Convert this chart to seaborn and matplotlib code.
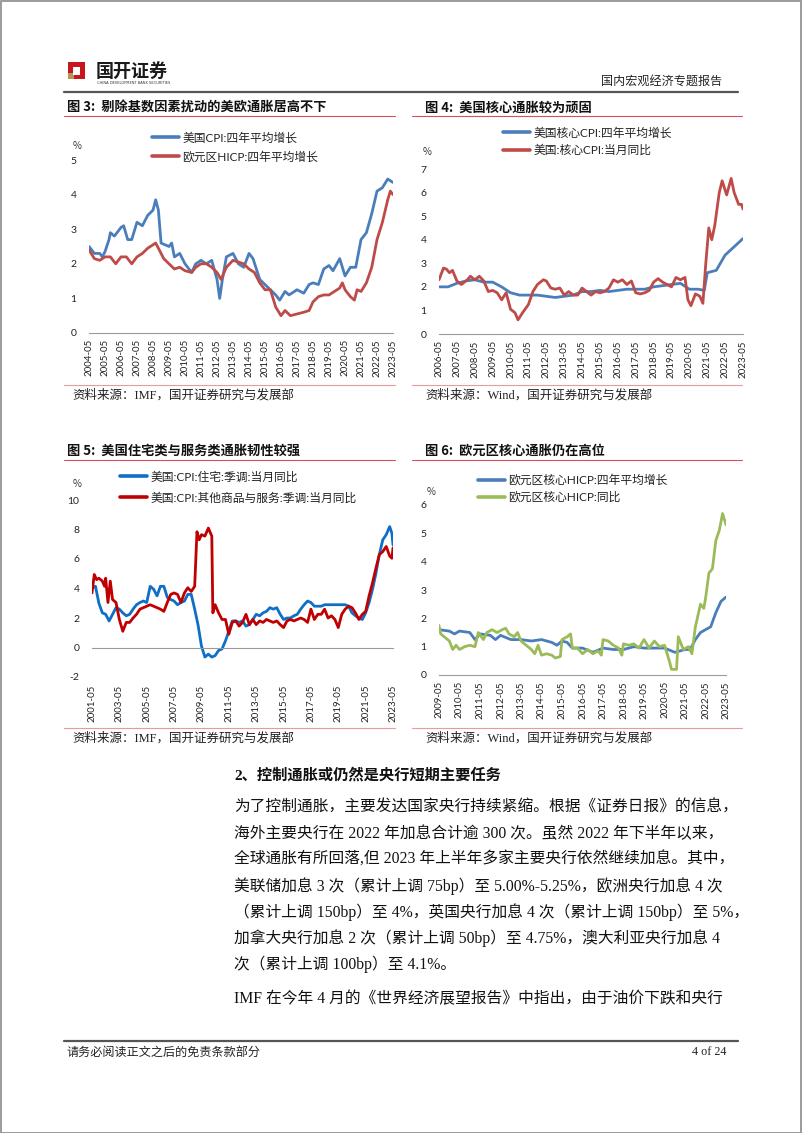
import matplotlib
matplotlib.use("Agg")
import matplotlib.pyplot as plt
import matplotlib.dates as mdates
import matplotlib.patches as mpatches
from matplotlib.lines import Line2D
import seaborn as sns
import pandas as pd

sns.set_theme(style="white")
plt.rcParams["font.family"] = ["Noto Sans CJK SC", "DejaVu Sans"]
plt.rcParams["axes.unicode_minus"] = False

# ---------------- DATA ----------------
# Figure 3
us_cpi_4y = [("2004-05", 2.5), ("2004-09", 2.3), ("2005-01", 2.3), ("2005-03", 2.2), ("2005-05", 2.35),
             ("2005-08", 2.7), ("2005-09", 2.9), ("2005-12", 2.8), ("2006-05", 3.05), ("2006-07", 3.1),
             ("2006-10", 2.7), ("2007-01", 2.7), ("2007-05", 3.2), ("2007-09", 3.1), ("2008-01", 3.4),
             ("2008-05", 3.55), ("2008-07", 3.85), ("2008-09", 3.55), ("2008-11", 2.6), ("2009-05", 2.5),
             ("2009-07", 2.6), ("2009-09", 2.2), ("2010-01", 2.3), ("2010-05", 2.0), ("2010-10", 1.75),
             ("2011-01", 2.0), ("2011-05", 2.1), ("2011-09", 2.0), ("2012-01", 2.1), ("2012-05", 1.55),
             ("2012-07", 1.0), ("2012-09", 1.55), ("2012-12", 2.2), ("2013-05", 2.3), ("2013-09", 2.0),
             ("2014-01", 1.9), ("2014-05", 2.3), ("2014-08", 2.15), ("2015-01", 1.55), ("2015-05", 1.4),
             ("2015-09", 1.25), ("2016-01", 1.1), ("2016-04", 0.95), ("2016-08", 1.2), ("2016-11", 1.1),
             ("2017-05", 1.25), ("2017-10", 1.15), ("2018-02", 1.4), ("2018-05", 1.45), ("2018-09", 1.4),
             ("2019-01", 1.85), ("2019-05", 1.95), ("2019-08", 1.8), ("2020-01", 2.15), ("2020-05", 1.65),
             ("2020-09", 1.9), ("2021-01", 1.9), ("2021-05", 2.7), ("2021-09", 2.9), ("2022-01", 3.45),
             ("2022-05", 4.1), ("2022-09", 4.2), ("2023-01", 4.45), ("2023-05", 4.35)]
ez_hicp_4y = [("2004-05", 2.4), ("2004-09", 2.15), ("2005-01", 2.1), ("2005-05", 2.2), ("2005-09", 2.2),
              ("2006-01", 2.0), ("2006-05", 2.2), ("2006-09", 2.2), ("2007-01", 2.0), ("2007-05", 2.2),
              ("2007-09", 2.3), ("2008-01", 2.45), ("2008-05", 2.55), ("2008-07", 2.6), ("2008-09", 2.45),
              ("2009-01", 2.15), ("2009-05", 2.0), ("2009-09", 1.85), ("2010-01", 1.9), ("2010-05", 1.8),
              ("2010-10", 1.75), ("2011-01", 1.9), ("2011-05", 2.0), ("2011-09", 2.0), ("2012-01", 1.9),
              ("2012-05", 1.75), ("2012-08", 1.55), ("2012-12", 1.9), ("2013-05", 2.1), ("2013-09", 2.05),
              ("2014-01", 2.0), ("2014-05", 1.85), ("2014-09", 1.75), ("2015-01", 1.45), ("2015-05", 1.25),
              ("2015-09", 1.25), ("2016-01", 0.75), ("2016-05", 0.5), ("2016-08", 0.65), ("2016-12", 0.5),
              ("2017-05", 0.55), ("2017-10", 0.6), ("2018-02", 0.65), ("2018-05", 0.9), ("2018-09", 1.05),
              ("2019-01", 1.1), ("2019-05", 1.1), ("2019-09", 1.2), ("2020-01", 1.3), ("2020-03", 1.45),
              ("2020-05", 1.25), ("2020-09", 1.05), ("2020-12", 0.95), ("2021-02", 1.25), ("2021-05", 1.2),
              ("2021-09", 1.45), ("2022-01", 1.9), ("2022-05", 2.7), ("2022-09", 3.2), ("2023-01", 3.85),
              ("2023-03", 4.1), ("2023-05", 4.0)]

# Figure 4
us_core_4y = [("2006-05", 2.0), ("2006-11", 2.0), ("2007-05", 2.15), ("2007-11", 2.25), ("2008-05", 2.3),
              ("2008-11", 2.2), ("2009-05", 2.2), ("2009-11", 2.0), ("2010-05", 1.75), ("2010-11", 1.65),
              ("2011-05", 1.65), ("2011-11", 1.65), ("2012-05", 1.6), ("2012-11", 1.55), ("2013-05", 1.6),
              ("2013-11", 1.65), ("2014-05", 1.8), ("2014-11", 1.8), ("2015-05", 1.85), ("2015-11", 1.8),
              ("2016-05", 1.85), ("2016-11", 1.9), ("2017-05", 1.9), ("2017-11", 1.9), ("2018-05", 2.0),
              ("2018-11", 2.05), ("2019-05", 2.1), ("2019-11", 2.15), ("2020-05", 1.9), ("2020-11", 1.9),
              ("2021-03", 1.85), ("2021-05", 2.6), ("2021-11", 2.7), ("2022-05", 3.35), ("2022-11", 3.7),
              ("2023-05", 4.05)]
us_core_yoy = [("2006-05", 2.3), ("2006-08", 2.8), ("2006-10", 2.75), ("2006-12", 2.6), ("2007-02", 2.7),
               ("2007-05", 2.25), ("2007-08", 2.1), ("2007-12", 2.3), ("2008-02", 2.45), ("2008-05", 2.3),
               ("2008-08", 2.45), ("2008-11", 2.25), ("2009-02", 1.8), ("2009-05", 1.85), ("2009-08", 1.75),
               ("2009-11", 1.45), ("2010-02", 1.75), ("2010-05", 1.05), ("2010-08", 0.9), ("2010-10", 0.6),
               ("2011-01", 0.9), ("2011-05", 1.25), ("2011-08", 1.8), ("2011-11", 2.1), ("2012-03", 2.3),
               ("2012-05", 2.25), ("2012-08", 1.95), ("2012-11", 1.9), ("2013-02", 1.95), ("2013-05", 1.65),
               ("2013-08", 1.8), ("2013-11", 1.65), ("2014-02", 1.65), ("2014-05", 1.95), ("2014-08", 1.8),
               ("2014-11", 1.65), ("2015-02", 1.8), ("2015-05", 1.75), ("2015-08", 1.8), ("2015-11", 1.95),
               ("2016-02", 2.3), ("2016-05", 2.2), ("2016-08", 2.3), ("2016-11", 2.1), ("2017-02", 2.25),
               ("2017-05", 1.75), ("2017-08", 1.7), ("2017-11", 1.75), ("2018-02", 1.85), ("2018-05", 2.2),
               ("2018-08", 2.35), ("2018-11", 2.2), ("2019-02", 2.1), ("2019-05", 2.0), ("2019-08", 2.4),
               ("2019-11", 2.3), ("2020-02", 2.4), ("2020-04", 1.45), ("2020-06", 1.2), ("2020-09", 1.7),
               ("2020-12", 1.6), ("2021-02", 1.3), ("2021-04", 3.0), ("2021-06", 4.5), ("2021-08", 4.0),
               ("2021-10", 4.6), ("2022-01", 6.0), ("2022-03", 6.5), ("2022-06", 5.9), ("2022-09", 6.6),
               ("2022-11", 6.0), ("2023-02", 5.5), ("2023-04", 5.5), ("2023-05", 5.3)]

# Figure 5
us_housing_yoy = [("2001-05", 4.05), ("2001-08", 4.15), ("2001-11", 3.0), ("2002-02", 2.35), ("2002-05", 2.25),
                  ("2002-08", 1.8), ("2002-11", 2.25), ("2003-02", 2.7), ("2003-05", 2.6), ("2003-08", 2.35),
                  ("2003-11", 2.15), ("2004-02", 2.25), ("2004-05", 2.6), ("2004-08", 2.9), ("2004-11", 3.05),
                  ("2005-02", 3.15), ("2005-05", 3.05), ("2005-08", 4.15), ("2005-11", 3.95), ("2006-02", 3.5),
                  ("2006-05", 4.15), ("2006-08", 4.15), ("2006-11", 3.4), ("2007-02", 3.25), ("2007-05", 3.15),
                  ("2007-08", 2.9), ("2007-11", 3.05), ("2008-02", 3.15), ("2008-05", 3.6), ("2008-08", 3.6),
                  ("2008-11", 2.6), ("2009-02", 1.5), ("2009-05", 0.1), ("2009-08", -0.65), ("2009-11", -0.45),
                  ("2010-02", -0.65), ("2010-05", -0.55), ("2010-08", -0.2), ("2010-11", -0.1), ("2011-02", 0.45),
                  ("2011-05", 1.1), ("2011-08", 1.8), ("2011-11", 1.8), ("2012-02", 1.7), ("2012-05", 1.8),
                  ("2012-08", 1.45), ("2012-11", 1.55), ("2013-02", 1.9), ("2013-05", 2.25), ("2013-08", 2.15),
                  ("2013-11", 2.35), ("2014-02", 2.45), ("2014-05", 2.7), ("2014-08", 2.6), ("2014-11", 2.7),
                  ("2015-02", 2.25), ("2015-05", 1.9), ("2015-08", 2.0), ("2015-11", 2.0), ("2016-02", 2.15),
                  ("2016-05", 2.25), ("2016-08", 2.6), ("2016-11", 2.9), ("2017-02", 3.15), ("2017-05", 3.05),
                  ("2017-08", 2.8), ("2017-11", 2.8), ("2018-02", 2.8), ("2018-05", 2.9), ("2018-08", 2.9),
                  ("2018-11", 2.9), ("2019-02", 2.9), ("2019-05", 2.9), ("2019-08", 2.9), ("2019-11", 2.9),
                  ("2020-02", 2.8), ("2020-05", 2.35), ("2020-08", 2.15), ("2020-11", 2.0), ("2021-02", 1.9),
                  ("2021-05", 2.35), ("2021-08", 3.05), ("2021-11", 3.95), ("2022-02", 5.05), ("2022-05", 6.3),
                  ("2022-08", 7.3), ("2022-11", 7.65), ("2023-02", 8.2), ("2023-04", 7.75), ("2023-05", 6.95)]
us_other_yoy = [("2001-05", 3.7), ("2001-07", 4.95), ("2001-09", 4.6), ("2001-11", 4.7), ("2002-02", 4.5),
                ("2002-04", 4.15), ("2002-05", 4.7), ("2002-07", 3.05), ("2002-09", 4.5), ("2002-11", 3.25),
                ("2003-02", 3.05), ("2003-05", 1.9), ("2003-08", 1.1), ("2003-11", 1.7), ("2004-02", 1.7),
                ("2004-05", 2.0), ("2004-08", 2.25), ("2004-11", 2.6), ("2005-02", 2.7), ("2005-05", 2.8),
                ("2005-08", 2.9), ("2005-11", 2.8), ("2006-02", 2.7), ("2006-05", 2.6), ("2006-08", 2.45),
                ("2006-11", 3.05), ("2007-02", 3.6), ("2007-05", 3.7), ("2007-08", 3.6), ("2007-11", 3.05),
                ("2008-02", 3.7), ("2008-05", 4.05), ("2008-08", 3.8), ("2008-11", 4.15), ("2009-01", 7.85),
                ("2009-03", 7.3), ("2009-05", 7.65), ("2009-08", 7.55), ("2009-11", 8.1), ("2010-02", 7.55),
                ("2010-03", 2.35), ("2010-05", 2.9), ("2010-08", 2.35), ("2010-11", 1.9), ("2011-02", 1.9),
                ("2011-05", 0.9), ("2011-08", 1.7), ("2011-11", 1.8), ("2012-02", 1.45), ("2012-05", 1.7),
                ("2012-08", 2.25), ("2012-11", 1.55), ("2013-02", 1.9), ("2013-05", 1.55), ("2013-08", 1.8),
                ("2013-11", 1.7), ("2014-02", 1.9), ("2014-05", 1.8), ("2014-08", 1.7), ("2014-11", 1.8),
                ("2015-02", 1.55), ("2015-05", 1.35), ("2015-08", 1.8), ("2015-11", 1.9), ("2016-02", 1.8),
                ("2016-05", 1.9), ("2016-08", 2.0), ("2016-11", 1.9), ("2017-02", 1.7), ("2017-05", 2.6),
                ("2017-08", 1.9), ("2017-11", 2.25), ("2018-02", 2.25), ("2018-05", 2.6), ("2018-08", 2.0),
                ("2018-11", 2.15), ("2019-02", 1.9), ("2019-05", 1.35), ("2019-08", 2.25), ("2019-11", 2.6),
                ("2020-02", 2.8), ("2020-05", 2.7), ("2020-08", 2.35), ("2020-11", 1.9), ("2021-02", 2.25),
                ("2021-05", 2.45), ("2021-08", 3.5), ("2021-11", 4.4), ("2022-02", 5.4), ("2022-05", 6.3),
                ("2022-08", 6.5), ("2022-11", 6.85), ("2023-02", 6.2), ("2023-04", 6.05), ("2023-05", 6.75)]

# Figure 6
ez_core_4y = [("2009-05", 1.6), ("2009-11", 1.55), ("2010-02", 1.45), ("2010-05", 1.55), ("2010-11", 1.5),
              ("2011-02", 1.25), ("2011-05", 1.45), ("2011-11", 1.4), ("2012-02", 1.25), ("2012-05", 1.4),
              ("2012-11", 1.25), ("2013-05", 1.25), ("2013-11", 1.2), ("2014-05", 1.25), ("2014-11", 1.15),
              ("2015-02", 1.05), ("2015-05", 1.2), ("2015-08", 1.15), ("2015-11", 0.95), ("2016-05", 0.95),
              ("2016-11", 0.8), ("2017-05", 0.95), ("2017-11", 0.9), ("2018-05", 0.9), ("2018-11", 1.0),
              ("2019-05", 0.95), ("2019-11", 0.95), ("2020-05", 0.95), ("2020-11", 0.8), ("2021-05", 0.9),
              ("2021-08", 0.9), ("2021-11", 1.25), ("2022-02", 1.5), ("2022-05", 1.6), ("2022-08", 1.7),
              ("2022-11", 2.2), ("2023-02", 2.6), ("2023-05", 2.75)]
ez_core_yoy = [("2009-05", 1.75), ("2009-06", 1.45), ("2009-09", 1.3), ("2009-11", 1.2), ("2010-01", 0.9),
               ("2010-03", 1.05), ("2010-05", 0.9), ("2010-08", 1.0), ("2010-11", 1.05), ("2011-02", 1.0),
               ("2011-04", 1.5), ("2011-07", 1.25), ("2011-09", 1.5), ("2011-12", 1.6), ("2012-03", 1.5),
               ("2012-06", 1.6), ("2012-08", 1.65), ("2012-10", 1.45), ("2013-01", 1.35), ("2013-03", 1.5),
               ("2013-05", 1.2), ("2013-08", 1.05), ("2013-11", 0.9), ("2014-01", 0.75), ("2014-03", 1.05),
               ("2014-05", 0.7), ("2014-08", 0.75), ("2014-11", 0.7), ("2015-01", 0.6), ("2015-04", 0.65),
               ("2015-05", 1.25), ("2015-08", 1.35), ("2015-10", 1.45), ("2015-11", 0.95), ("2016-02", 0.95),
               ("2016-05", 0.75), ("2016-08", 0.9), ("2016-11", 0.75), ("2017-02", 0.85), ("2017-04", 0.7),
               ("2017-05", 1.25), ("2017-08", 1.2), ("2017-11", 1.05), ("2018-02", 0.95), ("2018-04", 0.7),
               ("2018-05", 1.1), ("2018-08", 1.05), ("2018-11", 1.1), ("2019-02", 0.95), ("2019-05", 1.25),
               ("2019-08", 0.95), ("2019-11", 1.2), ("2020-02", 1.0), ("2020-05", 1.05), ("2020-08", 0.45),
               ("2020-09", 0.2), ("2020-12", 0.2), ("2021-01", 1.35), ("2021-04", 0.9), ("2021-07", 1.0),
               ("2021-09", 0.75), ("2021-11", 1.7), ("2022-02", 2.5), ("2022-04", 2.35), ("2022-05", 2.7),
               ("2022-07", 3.6), ("2022-09", 3.75), ("2022-11", 4.75), ("2023-01", 5.1), ("2023-03", 5.7),
               ("2023-05", 5.3)]

# Labels / ticks
fig3_title = "图 3:  剔除基数因素扰动的美欧通胀居高不下"
fig4_title = "图 4:  美国核心通胀较为顽固"
fig5_title = "图 5:  美国住宅类与服务类通胀韧性较强"
fig6_title = "图 6:  欧元区核心通胀仍在高位"
fig3_labels = ["美国CPI:四年平均增长", "欧元区HICP:四年平均增长"]
fig4_labels = ["美国核心CPI:四年平均增长", "美国:核心CPI:当月同比"]
fig5_labels = ["美国:CPI:住宅:季调:当月同比", "美国:CPI:其他商品与服务:季调:当月同比"]
fig6_labels = ["欧元区核心HICP:四年平均增长", "欧元区核心HICP:同比"]
fig3_yticks = [0, 1, 2, 3, 4, 5]
fig4_yticks = [0, 1, 2, 3, 4, 5, 6, 7]
fig5_yticks = [-2, 0, 2, 4, 6, 8, 10]
fig6_yticks = [0, 1, 2, 3, 4, 5, 6]
src_imf = "资料来源：IMF，国开证券研究与发展部"
src_wind = "资料来源：Wind，国开证券研究与发展部"

heading = "2、控制通胀或仍然是央行短期主要任务"
body_lines = [
    "为了控制通胀，主要发达国家央行持续紧缩。根据《证券日报》的信息，",
    "海外主要央行在 2022 年加息合计逾 300 次。虽然 2022 年下半年以来，",
    "全球通胀有所回落,但 2023 年上半年多家主要央行依然继续加息。其中，",
    "美联储加息 3 次（累计上调 75bp）至 5.00%-5.25%，欧洲央行加息 4 次",
    "（累计上调 150bp）至 4%，英国央行加息 4 次（累计上调 150bp）至 5%，",
    "加拿大央行加息 2 次（累计上调 50bp）至 4.75%，澳大利亚央行加息 4",
    "次（累计上调 100bp）至 4.1%。",
]
body_last = "IMF 在今年 4 月的《世界经济展望报告》中指出，由于油价下跌和央行"

# ---------------- LAYOUT ----------------
W, H = 802, 1133
fig = plt.figure(figsize=(W / 100, H / 100), dpi=100)
fig.patch.set_facecolor("white")

SERIF_MIX = ["Liberation Serif", "Noto Sans CJK SC"]
SANS_MIX = ["Lato", "Noto Sans CJK SC"]


def fx(x):
    return x / W


def fy(y):
    return 1 - y / H


def hline(x0, x1, y, color, lw):
    fig.add_artist(Line2D([fx(x0), fx(x1)], [fy(y), fy(y)], transform=fig.transFigure,
                          color=color, lw=lw))


def make_axes(left, right, top, bottom):
    return fig.add_axes([fx(left), fy(bottom), fx(right - left), (bottom - top) / H])


AXIS_GREY = "#9a9a9a"
TITLE_RED = "#d3525c"
SRC_RED = "#e79aa0"


def draw_chart(ax, series, labels, colors, ylim, yticks, t0, t1, step, legend_xy, zero_axis=False,
               xpad=1.5, spacing=0.6):
    frames = []
    for data, lab in zip(series, labels):
        d = pd.DataFrame(data, columns=["date", "value"])
        d["date"] = pd.to_datetime(d["date"])
        d["series"] = lab
        frames.append(d)
    df = pd.concat(frames, ignore_index=True)
    sns.lineplot(data=df, x="date", y="value", hue="series", hue_order=labels,
                 palette=dict(zip(labels, colors)), lw=2.0, ax=ax, legend=False)
    ticks = pd.date_range(t0, t1, freq=f"{12 * step}MS")
    ax.set_xticks(ticks)
    ax.xaxis.set_major_formatter(mdates.DateFormatter("%Y-%m"))
    ax.set_xlim(pd.Timestamp(t0), pd.Timestamp(t1))
    ax.set_ylim(*ylim)
    ax.set_yticks(yticks)
    ax.set_yticklabels([str(v) for v in yticks])
    ax.set_xlabel("")
    ax.set_ylabel("")
    ax.set_facecolor("none")
    for s in ["top", "right", "left"]:
        ax.spines[s].set_visible(False)
    ax.spines["bottom"].set_color(AXIS_GREY)
    ax.spines["bottom"].set_linewidth(0.8)
    if zero_axis:
        ax.spines["bottom"].set_position(("data", 0))
    ax.tick_params(axis="x", direction="out", length=3, width=0.7, color=AXIS_GREY,
                   labelsize=7, labelrotation=90, pad=xpad, labelcolor="#222222")
    ax.tick_params(axis="y", length=0, labelsize=7.5, pad=9, labelcolor="#222222")
    for t in ax.get_xticklabels() + ax.get_yticklabels():
        t.set_family(SANS_MIX)
    ax.grid(False)
    handles = [Line2D([0], [0], color=c, lw=2.6) for c in colors]
    leg = ax.legend(handles, labels, loc="upper left", bbox_to_anchor=(fx(legend_xy[0]), fy(legend_xy[1])),
                    bbox_transform=fig.transFigure, frameon=False, fontsize=8.5, handlelength=2.3,
                    handletextpad=0.25, labelspacing=spacing, borderpad=0, borderaxespad=0)
    for t in leg.get_texts():
        t.set_family(SANS_MIX)
        t.set_color("#222222")


blue_x = "#4a7ebb"
red_x = "#be4b48"

ax3 = make_axes(89, 393, 160, 333)
draw_chart(ax3, [us_cpi_4y, ez_hicp_4y], fig3_labels, [blue_x, red_x], (0, 5), fig3_yticks,
           "2004-05-01", "2023-05-01", 1, (152, 132), spacing=0.62)

ax4 = make_axes(439, 743, 169, 334)
draw_chart(ax4, [us_core_4y, us_core_yoy], fig4_labels, [blue_x, red_x], (0, 7), fig4_yticks,
           "2006-05-01", "2023-05-01", 1, (503, 127), spacing=0.5)

ax5 = make_axes(92, 393, 500, 677)
draw_chart(ax5, [us_housing_yoy, us_other_yoy], fig5_labels, ["#0f6fc6", "#c00000"], (-2, 10), fig5_yticks,
           "2001-05-01", "2023-05-01", 2, (120, 471), zero_axis=True, xpad=24, spacing=0.8)

ax6 = make_axes(439, 726, 505, 675)
draw_chart(ax6, [ez_core_4y, ez_core_yoy], fig6_labels, [blue_x, "#9bbb59"], (0, 6), fig6_yticks,
           "2009-05-01", "2023-05-01", 1, (478, 474), spacing=0.5)

# "%" unit labels
for (x, y) in [(77, 146), (427, 152), (77, 484), (431, 492)]:
    fig.text(fx(x), fy(y), "%", fontsize=7, ha="center", va="center", color="#333333")

# Figure titles with underlines and source lines
for (x, y, t) in [(67, 108, fig3_title), (425, 108, fig4_title), (67, 451, fig5_title), (425, 451, fig6_title)]:
    fig.text(fx(x), fy(y), t, fontsize=9.5, fontweight="bold", ha="left", va="center", color="#111111")
hline(64, 395, 116, TITLE_RED, 0.8)
hline(412, 742, 116, TITLE_RED, 0.8)
hline(64, 395, 460, TITLE_RED, 0.8)
hline(412, 742, 460, TITLE_RED, 0.8)
hline(64, 395, 385, SRC_RED, 0.8)
hline(412, 742, 385, SRC_RED, 0.8)
hline(64, 395, 728, SRC_RED, 0.8)
hline(412, 742, 728, SRC_RED, 0.8)
for (x, y, t) in [(72, 395, src_imf), (425, 395, src_wind), (72, 738, src_imf), (425, 738, src_wind)]:
    fig.text(fx(x), fy(y), t, fontsize=9, ha="left", va="center", color="#222222", family=SERIF_MIX)

# Header
fig.add_artist(mpatches.Rectangle((fx(68), fy(79)), 17 / W, 17 / H, transform=fig.transFigure,
                                  facecolor="#c8161d", edgecolor="none"))
fig.add_artist(mpatches.Rectangle((fx(68), fy(79)), 6 / W, 6 / H, transform=fig.transFigure,
                                  facecolor="#b8935a", edgecolor="none"))
fig.add_artist(mpatches.Rectangle((fx(73), fy(75)), 7 / W, 8 / H, transform=fig.transFigure,
                                  facecolor="white", edgecolor="none"))
fig.text(fx(96), fy(71), "国开证券", fontsize=13, fontweight="bold", ha="left", va="center", color="#1a1a1a")
fig.text(fx(97), fy(82.5), "CHINA DEVELOPMENT BANK SECURITIES", fontsize=2.6, ha="left", va="center",
         color="#333333", family=["DejaVu Sans"])
fig.text(fx(722), fy(81), "国内宏观经济专题报告", fontsize=8.7, ha="right", va="center", color="#222222")
hline(64, 738, 92, "#555555", 1.6)

# Body text
fig.text(fx(234), fy(775), heading, fontsize=11, fontweight="bold", ha="left", va="center", color="#111111",
         family=SERIF_MIX)
for i, line in enumerate(body_lines):
    fig.text(fx(234), fy(808 + i * 26), line, fontsize=11.3, ha="left", va="center", color="#111111",
             family=SERIF_MIX)
fig.text(fx(234), fy(999), body_last, fontsize=11.3, ha="left", va="center", color="#111111",
         family=SERIF_MIX)

# Footer
hline(64, 738, 1041, "#555555", 1.6)
fig.text(fx(66), fy(1052), "请务必阅读正文之后的免责条款部分", fontsize=8.7, ha="left", va="center", color="#222222")
fig.text(fx(726), fy(1052), "4 of 24", fontsize=8.7, ha="right", va="center", color="#222222",
         family=["Liberation Serif"])

# Page border
fig.add_artist(mpatches.Rectangle((0.5 / W, 0.5 / H), 1 - 1.5 / W, 1 - 1.5 / H, transform=fig.transFigure,
                                  facecolor="none", edgecolor="#8a8a8a", lw=1.2))

fig.savefig("out.png", dpi=100, facecolor="white")
